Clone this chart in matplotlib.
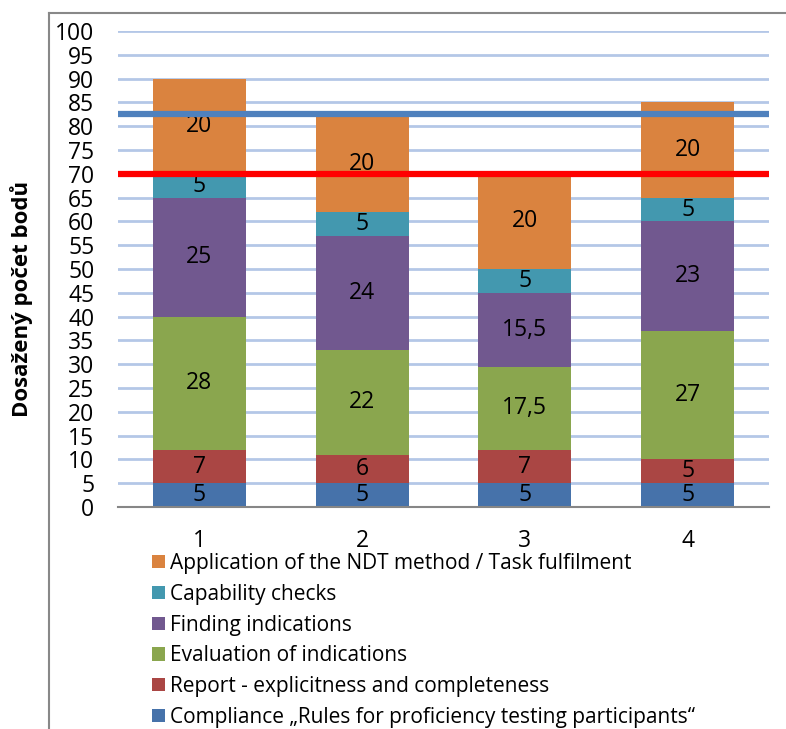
import matplotlib.pyplot as plt
import numpy as np
from matplotlib.patches import Patch
from matplotlib.lines import Line2D

plt.rcParams['font.family'] = ['Open Sans', 'DejaVu Sans']

participants = ['1', '2', '3', '4']
compliance = [5, 5, 5, 5]
report = [7, 6, 7, 5]
evaluation = [28, 22, 17.5, 27]
finding = [25, 24, 15.5, 23]
capability = [5, 5, 5, 5]
application = [20, 20, 20, 20]
limit_blue = 82.5
limit_red = 70

series = [
    ('Compliance \u201eRules for proficiency testing participants\u201c', compliance, '#4672AA'),
    ('Report - explicitness and completeness', report, '#AA4644'),
    ('Evaluation of indications', evaluation, '#8AA64E'),
    ('Finding indications', finding, '#71588F'),
    ('Capability checks', capability, '#4398AF'),
    ('Application of the NDT method / Task fulfilment', application, '#DA833F'),
]

fig = plt.figure(figsize=(7.86, 7.29), dpi=100)
ax = fig.add_axes([118/786, 1 - 507/729, 651/786, 476/729])

x = np.arange(1, len(participants) + 1)
bottom = np.zeros(len(participants))
handles = []
for label, vals, color in series:
    vals = np.array(vals, dtype=float)
    ax.bar(x, vals, width=0.57, bottom=bottom, color=color, zorder=2)
    for xi, b, v in zip(x, bottom, vals):
        txt = f'{v:g}'.replace('.', ',')
        ax.text(xi, b + v / 2, txt, ha='center', va='center', fontsize=16.5, color='black', zorder=3)
    bottom += vals
    handles.append(Patch(facecolor=color, label=label))

ax.axhline(limit_blue, xmin=0, xmax=0.997, color='#4F81BD', lw=4.5, zorder=4)
ax.axhline(limit_red, xmin=0, xmax=0.997, color='#FF0000', lw=4.5, zorder=4)

ax.set_xlim(0.5, 4.5)
ax.set_ylim(0, 100)
ax.set_yticks(range(0, 101, 5))
ax.set_xticks(x)
ax.set_xticklabels(participants)
ax.tick_params(axis='both', length=0, labelsize=16.5)
ax.tick_params(axis='y', pad=17)
ax.tick_params(axis='x', pad=16)
ax.grid(axis='y', color='#B4C7E7', lw=2, zorder=0)
for s in ['top', 'right', 'left']:
    ax.spines[s].set_visible(False)
ax.spines['bottom'].set_color('#868686')
ax.spines['bottom'].set_linewidth(1.5)

fig.text(22/786, 1 - 299/729, 'Dosažený počet bodů', rotation=90, ha='center', va='center',
         fontsize=16, fontweight='bold')

# outer chart frame (cropped)
fig.add_artist(Line2D([49/786, 1.0], [1 - 13/729, 1 - 13/729], color='#888888', lw=1.5))
fig.add_artist(Line2D([49/786, 49/786], [0, 1 - 13/729], color='#888888', lw=1.5))

fig.legend(handles=handles[::-1], loc='upper left', bbox_to_anchor=(152/786, 1 - 553/729),
           frameon=False, fontsize=15, handlelength=0.6, handleheight=0.6,
           handletextpad=0.27, labelspacing=0.47, borderpad=0, borderaxespad=0)

fig.savefig('out.png', dpi=100)
